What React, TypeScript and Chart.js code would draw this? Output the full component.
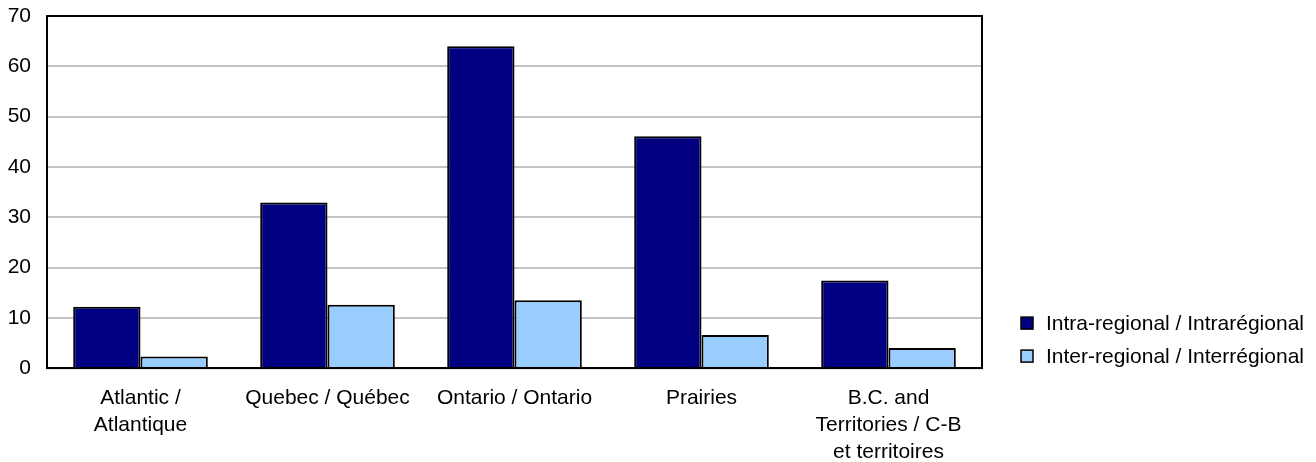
import React, { useEffect, useRef } from "react";
import { Chart, registerables } from "chart.js";

Chart.register(...registerables);

const categories: (string | string[])[] = [
  ["Atlantic /", "Atlantique"],
  "Quebec / Québec",
  "Ontario / Ontario",
  "Prairies",
  ["B.C. and", "Territories / C-B", "et territoires"],
];

const intraRegional = [12.2, 32.9, 64.0, 46.1, 17.4];
const interRegional = [2.3, 12.6, 13.5, 6.6, 4.0];

const seriesLabels = ["Intra-regional / Intrarégional", "Inter-regional / Interrégional"];
const seriesColors = ["#000080", "#99ccff"];

const yMin = 0;
const yMax = 70;
const yStep = 10;

const FONT_FAMILY = "'Liberation Sans', Arial, Helvetica, sans-serif";
const FONT_SIZE = 21;
const LINE_HEIGHT = 1.3;
const TICK_PADDING = 16;

// Black frame around the plot area.
const framePlugin = {
  id: "plotFrame",
  afterDatasetsDraw(chart: any) {
    const { ctx, chartArea } = chart;
    ctx.save();
    ctx.strokeStyle = "#000000";
    ctx.lineWidth = 2;
    ctx.strokeRect(chartArea.left, chartArea.top, chartArea.right - chartArea.left, chartArea.bottom - chartArea.top);
    ctx.restore();
  },
};

// Legend placed to the right of the plot, near the bottom.
const sideLegendPlugin = {
  id: "sideLegend",
  afterDraw(chart: any) {
    const { ctx, chartArea } = chart;
    const datasets = chart.data.datasets;
    const boxX = chartArea.right + 39;
    const textX = boxX + 25;
    const rowGap = 33;
    const firstRowY = chartArea.bottom - 12 - rowGap * (datasets.length - 1);
    ctx.save();
    ctx.font = `${FONT_SIZE}px ${FONT_FAMILY}`;
    ctx.textBaseline = "middle";
    ctx.textAlign = "left";
    datasets.forEach((ds: any, i: number) => {
      const y = firstRowY + i * rowGap;
      ctx.fillStyle = ds.backgroundColor;
      ctx.fillRect(boxX, y - 6, 12, 12);
      ctx.strokeStyle = "#000000";
      ctx.lineWidth = 1.5;
      ctx.strokeRect(boxX, y - 6, 12, 12);
      ctx.fillStyle = "#000000";
      ctx.fillText(ds.label, textX, y + 1);
    });
    ctx.restore();
  },
};

export default function App() {
  const canvasRef = useRef<HTMLCanvasElement | null>(null);

  useEffect(() => {
    if (!canvasRef.current) return;
    const chart = new Chart(canvasRef.current, {
      type: "bar",
      data: {
        labels: categories,
        datasets: [
          {
            label: seriesLabels[0],
            data: intraRegional,
            backgroundColor: seriesColors[0],
            borderColor: "#000000",
            borderWidth: 2,
            categoryPercentage: 0.72,
            barPercentage: 1.0,
          },
          {
            label: seriesLabels[1],
            data: interRegional,
            backgroundColor: seriesColors[1],
            borderColor: "#000000",
            borderWidth: 2,
            categoryPercentage: 0.72,
            barPercentage: 1.0,
          },
        ],
      },
      options: {
        animation: false,
        responsive: true,
        maintainAspectRatio: false,
        layout: { padding: { left: 8, top: 16, right: 334, bottom: 0 } },
        plugins: {
          legend: { display: false },
          tooltip: { enabled: false },
          title: { display: false },
        },
        scales: {
          x: {
            grid: { display: false, drawTicks: false },
            border: { display: true, color: "#000000", width: 2 },
            afterFit(scale: any) {
              scale.height = TICK_PADDING + 3 * FONT_SIZE * LINE_HEIGHT;
            },
            ticks: {
              color: "#000000",
              padding: TICK_PADDING,
              maxRotation: 0,
              autoSkip: false,
              font: { family: FONT_FAMILY, size: FONT_SIZE, lineHeight: LINE_HEIGHT },
            },
          },
          y: {
            min: yMin,
            max: yMax,
            grid: { color: "#c4c4c4", lineWidth: 2, drawTicks: false },
            border: { display: true, color: "#000000", width: 2 },
            afterFit(scale: any) {
              scale.width = 39;
              scale.paddingTop = 0;
              scale.paddingBottom = 0;
            },
            ticks: {
              stepSize: yStep,
              color: "#000000",
              padding: TICK_PADDING,
              font: { family: FONT_FAMILY, size: FONT_SIZE, lineHeight: LINE_HEIGHT },
            },
          },
        },
      },
      plugins: [framePlugin, sideLegendPlugin],
    });
    return () => chart.destroy();
  }, []);

  return (
    <div style={{ position: "absolute", left: 0, top: 0, width: 1316, height: 462, overflow: "hidden", background: "#ffffff" }}>
      <div style={{ position: "relative", width: 1316, height: 466 }}>
        <canvas ref={canvasRef} />
      </div>
    </div>
  );
}
